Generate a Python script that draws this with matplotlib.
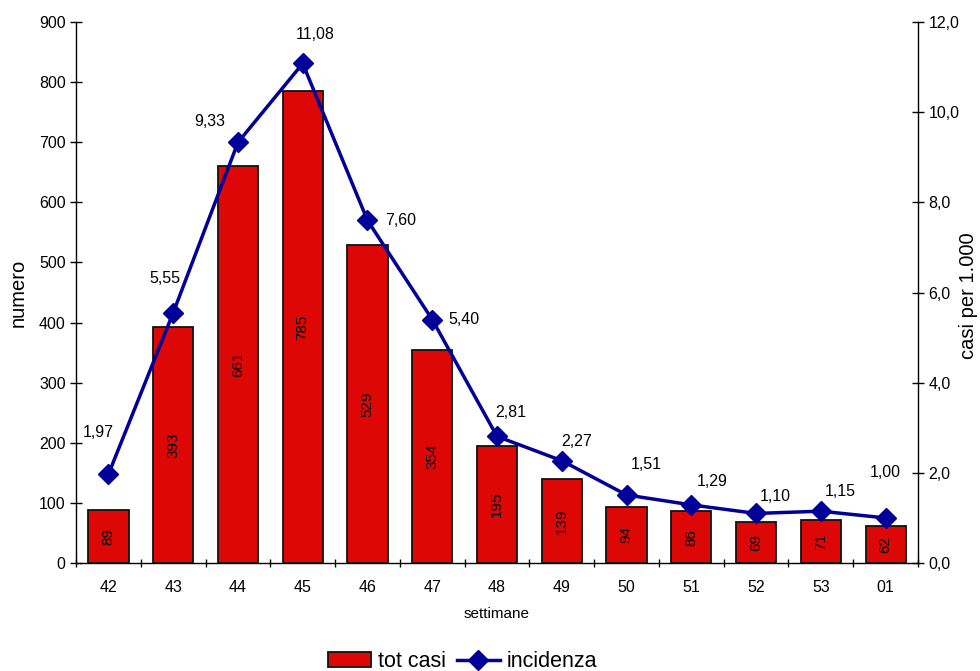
import matplotlib
matplotlib.use("Agg")
import matplotlib.pyplot as plt
from matplotlib.ticker import FuncFormatter, MultipleLocator

plt.rcParams['font.family'] = ['Liberation Sans', 'DejaVu Sans']

settimane = ["42", "43", "44", "45", "46", "47", "48", "49", "50", "51", "52", "53", "01"]
tot_casi = [89, 393, 661, 785, 529, 354, 195, 139, 94, 86, 69, 71, 62]
incidenza = [1.97, 5.55, 9.33, 11.08, 7.60, 5.40, 2.81, 2.27, 1.51, 1.29, 1.10, 1.15, 1.00]

# label offsets (points) for the incidence values
lbl_off = [(-7, 30), (-6, 25), (-20, 15), (9, 21), (24, 0), (23, 0),
           (10, 17), (11, 14), (14, 22), (15, 17), (14, 12), (14, 14), (0, 33)]

fig = plt.figure(figsize=(9.8, 6.71), dpi=100)
ax = fig.add_axes([0.0776, 0.1609, 0.8591, 0.8063])
x = list(range(len(settimane)))

bars = ax.bar(x, tot_casi, width=0.62, color="#DD0806", edgecolor="#111111", linewidth=1.3, zorder=2)
for xi, v in zip(x, tot_casi):
    ax.text(xi, v / 2, str(v), rotation=90, ha="center", va="center", fontsize=11, color="black", zorder=3)

ax.set_xlim(-0.5, len(settimane) - 0.5)
ax.set_ylim(0, 900)
ax.yaxis.set_major_locator(MultipleLocator(100))
ax.set_xticks(x)
ax.set_xticklabels(settimane, fontsize=11.5)
ax.set_xticks([i + 0.5 for i in range(-1, len(settimane))], minor=True)
ax.tick_params(axis="x", which="major", length=0, pad=12)
ax.tick_params(axis="x", which="minor", length=6, direction="inout", width=1)
ax.tick_params(axis="y", length=8, direction="inout", labelsize=11.5, width=1)
ax.spines["top"].set_visible(False)
for s in ("left", "bottom", "right"):
    ax.spines[s].set_linewidth(1)
    ax.spines[s].set_color("#333333")
ax.set_ylabel("numero", fontsize=14.5, labelpad=8)
ax.set_xlabel("settimane", fontsize=11, labelpad=9)

ax2 = ax.twinx()
ax2.set_ylim(0, 12)
ax2.yaxis.set_major_locator(MultipleLocator(2))
ax2.yaxis.set_major_formatter(FuncFormatter(lambda v, p: f"{v:.1f}".replace(".", ",")))
ax2.tick_params(axis="y", length=8, direction="inout", labelsize=11.5, width=1)
ax2.spines["top"].set_visible(False)
line, = ax2.plot(x, incidenza, color="#000099", linewidth=2.5, marker="D", markersize=10,
                 markerfacecolor="#000099", markeredgecolor="#000099", zorder=4)
for xi, v, off in zip(x, incidenza, lbl_off):
    ax2.annotate(f"{v:.2f}".replace(".", ","), (xi, v), xytext=off, textcoords="offset points",
                 ha="center", va="center", fontsize=11.5)
fig.text(968 / 980, 0.56, "casi per 1.000", rotation=90, ha="center", va="center", fontsize=14.5)

fig.legend([bars, line], ["tot casi", "incidenza"], loc="center", bbox_to_anchor=(0.472, 0.014),
           ncol=2, frameon=False, fontsize=15.5, handlelength=2.0, columnspacing=0.5, handletextpad=0.3)

fig.savefig("out.png", dpi=100)
